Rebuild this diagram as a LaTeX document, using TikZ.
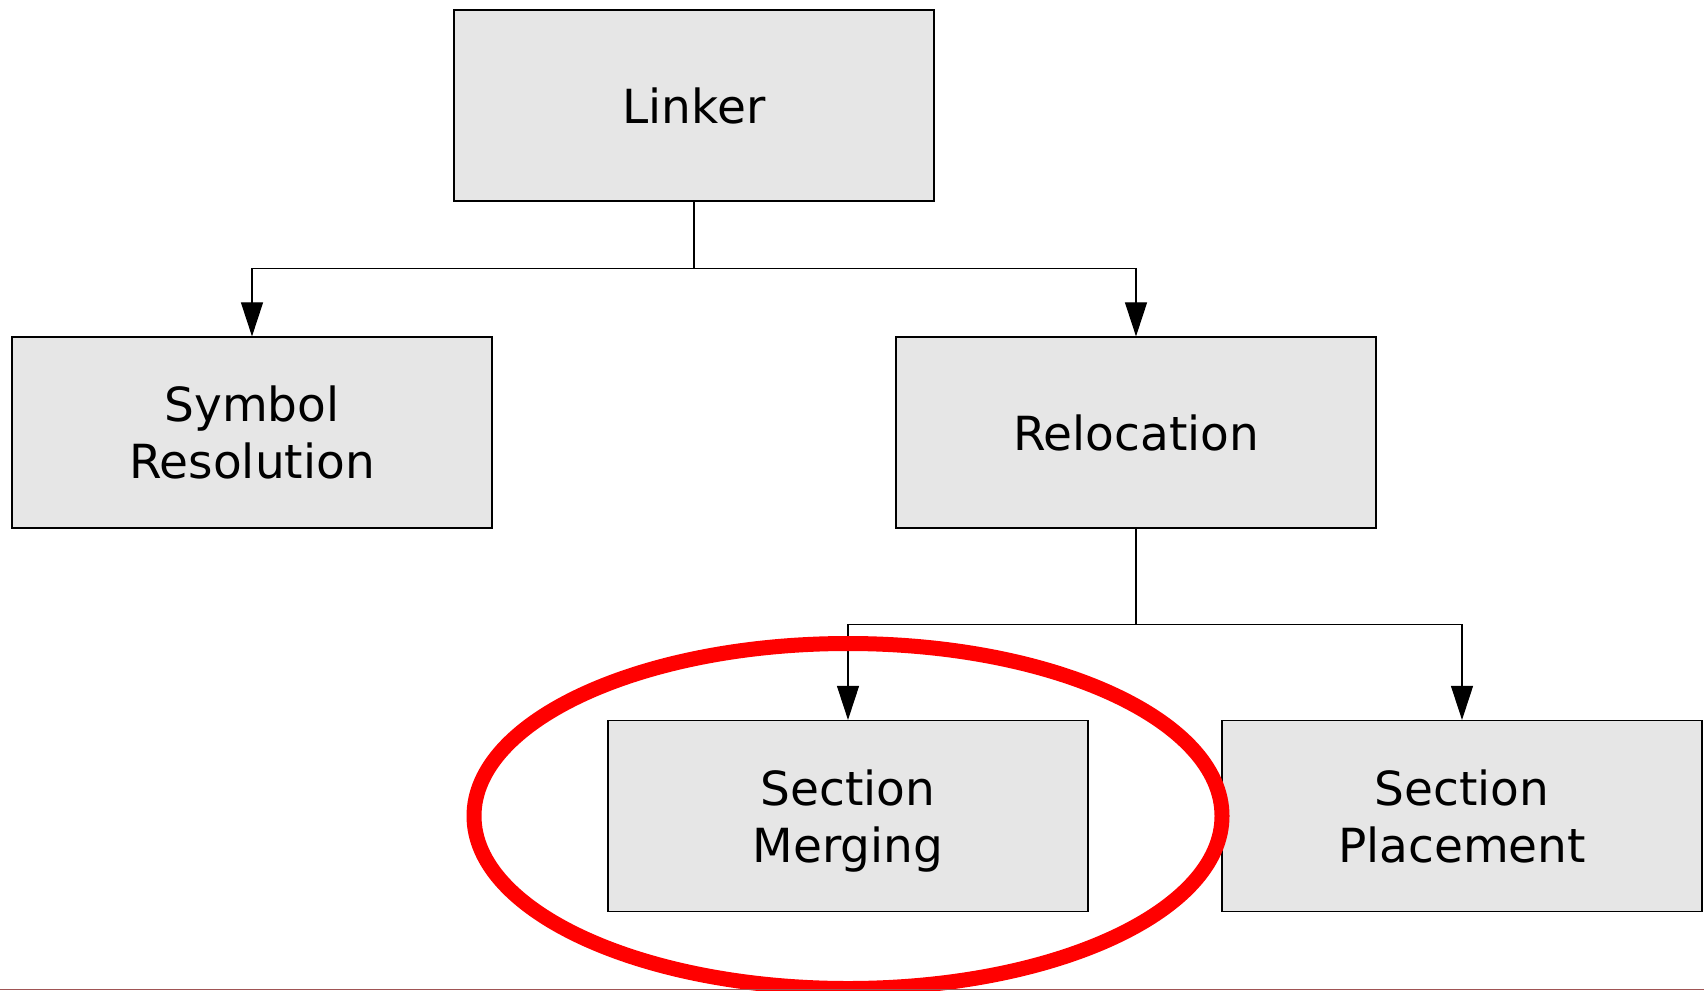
\documentclass[tikz,border=0pt]{standalone}
\usepackage{fontspec}
\setmainfont{DejaVu Sans}
\usetikzlibrary{arrows.meta}
\definecolor{boxfill}{RGB}{230,230,230}
\definecolor{edgeline}{RGB}{160,85,85}
\begin{document}
\begin{tikzpicture}[x=1pt,y=-1pt,
  stage/.style={draw=black,line width=1.2pt,fill=boxfill,minimum width=480pt,minimum height=191pt,
    inner sep=0pt,align=center,font=\fontsize{47}{57}\selectfont},
  link/.style={draw=black,line width=1.1pt},
  tolink/.style={link,-{Triangle[length=34pt,width=22pt]}},
  highlight/.style={draw=red,line width=15pt}]
\useasboundingbox (0,0) rectangle (1704,990);

% boxes
\node[stage] (linker)    at (694,105.5) {Linker};
\node[stage] (symres)    at (252,432.5) {Symbol\\Resolution};
\node[stage] (reloc)     at (1136,432.5) {Relocation};
\node[stage] (merging)   at (848,816) {Section\\\raisebox{0pt}[\height][0pt]{Merging}};
\node[stage] (placement) at (1462,816) {Section\\Placement};

% branch points
\coordinate (j1) at (694,268.5);
\coordinate (j2) at (1136,624.5);

% tree connectors
\draw[link] (linker.south) -- (j1);
\draw[tolink] (j1) -| (symres.north);
\draw[tolink] (j1) -| (reloc.north);
\draw[link] (reloc.south) -- (j2);
\draw[tolink] (j2) -| (merging.north);
\draw[tolink] (j2) -| (placement.north);

% red emphasis ring
\draw[highlight] (merging.center) ellipse [x radius=374, y radius=172.5];

% thin rule along the bottom edge
\draw[edgeline,line width=1.2pt] (0,989.4) -- (1704,989.4);
\end{tikzpicture}
\end{document}
